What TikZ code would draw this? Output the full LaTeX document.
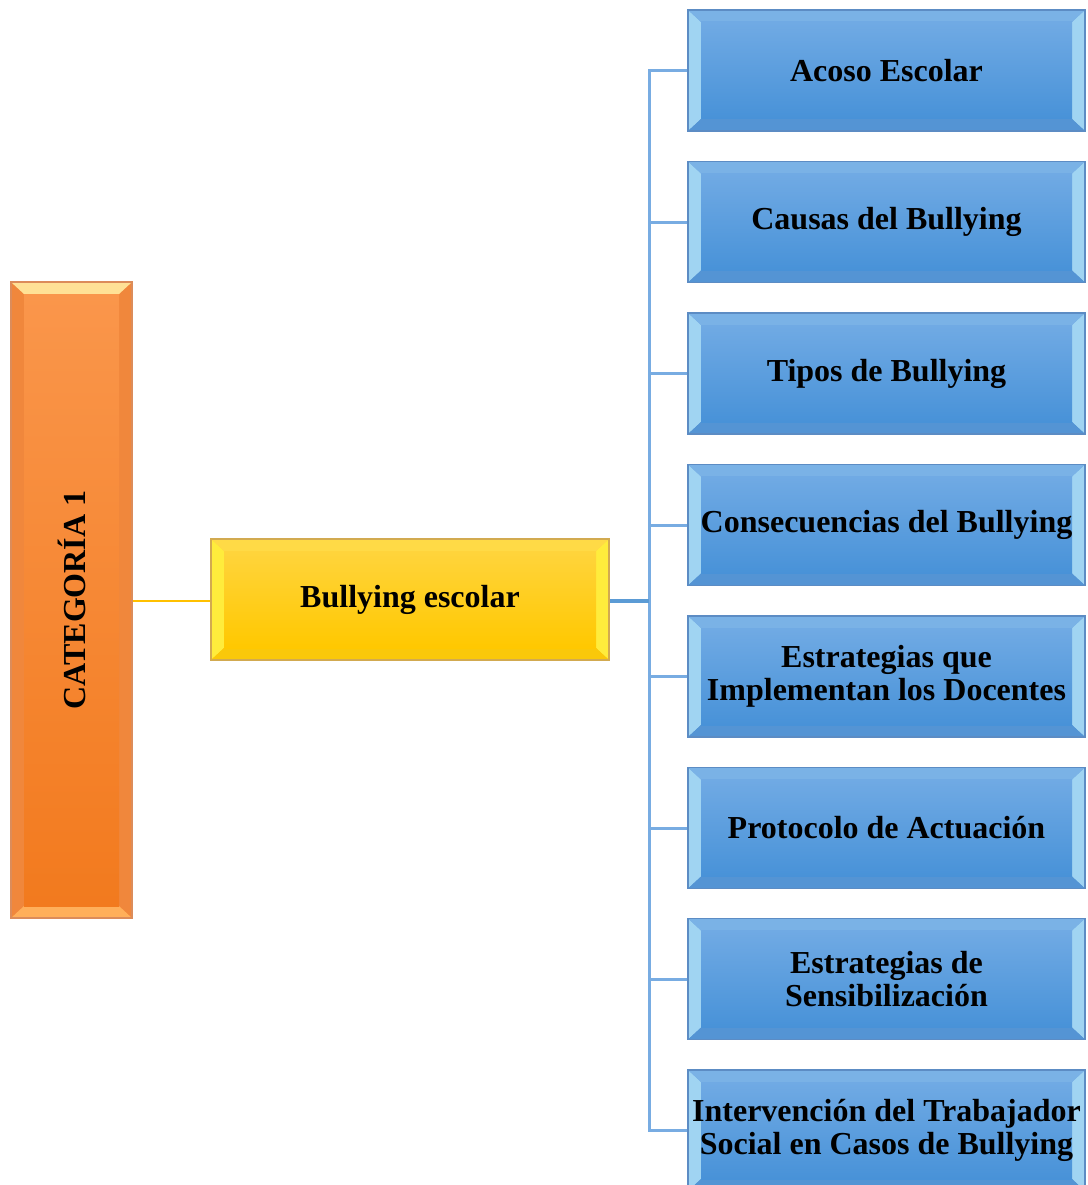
\documentclass[tikz,border=0pt]{standalone}
\usepackage{fontspec}
\setmainfont{Liberation Serif}
\begin{document}
\begin{tikzpicture}[x=1pt,y=-1pt]
\definecolor{bluetop}{RGB}{112,170,228}
\definecolor{bluebot}{RGB}{72,146,216}
\definecolor{blueedge}{RGB}{92,140,196}
\definecolor{bluebev}{RGB}{160,212,242}
\definecolor{bluebevt}{RGB}{122,178,230}
\definecolor{bluebevb}{RGB}{84,148,212}
\definecolor{yeltop}{RGB}{255,212,60}
\definecolor{yelbot}{RGB}{255,200,0}
\definecolor{yeledge}{RGB}{210,170,80}
\definecolor{yelbev}{RGB}{255,236,60}
\definecolor{yelbevt}{RGB}{255,218,70}
\definecolor{yelbevb}{RGB}{250,200,10}
\definecolor{ortop}{RGB}{250,150,75}
\definecolor{orbot}{RGB}{242,122,30}
\definecolor{oredge}{RGB}{220,140,90}
\definecolor{orbev}{RGB}{240,135,60}
\definecolor{orbevt}{RGB}{255,225,150}
\definecolor{orbevb}{RGB}{255,175,90}
\definecolor{linkblue}{RGB}{120,172,226}
\definecolor{linkdark}{RGB}{91,155,213}
\definecolor{gold}{RGB}{255,192,0}
\tikzset{
  bevelbox/.style n args={7}{rectangle, inner sep=0pt, draw=#3, line width=1.5pt,
    top color=#1, bottom color=#2, align=center,
    font=\bfseries\fontsize{32}{33}\selectfont,
    path picture={
      \fill[#4] (path picture bounding box.north west) -- ([xshift=13pt,yshift=-12pt]path picture bounding box.north west)
        -- ([xshift=13pt,yshift=12pt]path picture bounding box.south west) -- (path picture bounding box.south west) -- cycle;
      \fill[#4] (path picture bounding box.north east) -- ([xshift=-13pt,yshift=-12pt]path picture bounding box.north east)
        -- ([xshift=-13pt,yshift=12pt]path picture bounding box.south east) -- (path picture bounding box.south east) -- cycle;
      \fill[#5] (path picture bounding box.north west) -- ([xshift=13pt,yshift=-12pt]path picture bounding box.north west)
        -- ([xshift=-13pt,yshift=-12pt]path picture bounding box.north east) -- (path picture bounding box.north east) -- cycle;
      \fill[#6] (path picture bounding box.south west) -- ([xshift=13pt,yshift=12pt]path picture bounding box.south west)
        -- ([xshift=-13pt,yshift=12pt]path picture bounding box.south east) -- (path picture bounding box.south east) -- cycle;
      \shade[top color=#1, bottom color=#2] ([xshift=13pt,yshift=-12pt]path picture bounding box.north west) rectangle ([xshift=-13pt,yshift=12pt]path picture bounding box.south east);
    },
    minimum width=#7},
  bluebox/.style={bevelbox={bluetop}{bluebot}{blueedge}{bluebev}{bluebevt}{bluebevb}{397pt}, minimum height=121pt},
  yelbox/.style={bevelbox={yeltop}{yelbot}{yeledge}{yelbev}{yelbevt}{yelbevb}{398pt}, minimum height=121pt},
  orbox/.style={bevelbox={ortop}{orbot}{oredge}{orbev}{orbevt}{orbevb}{121pt}, minimum height=636pt},
  branch/.style={draw=linkblue, line width=3pt},
  trunk/.style={draw=linkdark, line width=4.5pt},
  goldlink/.style={draw=gold, line width=2pt}
}
\useasboundingbox (0,0) rectangle (1087,1185);
\node[orbox] (cat) at (71.5,600) {};
\node[rotate=90, font=\bfseries\fontsize{32}{33}\selectfont] (catlabel) at (cat.center) {CATEGORÍA 1};
\node[yelbox] (bul) at (410,599.5) {Bullying escolar};
\node[bluebox] (b1) at (886.5,70.5) {Acoso Escolar};
\node[bluebox] (b2) at (886.5,222) {Causas del Bullying};
\node[bluebox] (b3) at (886.5,373.5) {Tipos de Bullying};
\node[bluebox] (b4) at (886.5,525) {Consecuencias del Bullying};
\node[bluebox] (b5) at (886.5,676.5) {Estrategias que\\Implementan los Docentes};
\node[bluebox] (b6) at (886.5,828) {Protocolo de Actuación};
\node[bluebox] (b7) at (886.5,979) {Estrategias de\\Sensibilización};
\node[bluebox] (b8) at (886.5,1130.5) {Intervención del Trabajador\\Social en Casos de Bullying};
\coordinate (sp) at (649,601);
\draw[goldlink] (cat.east |- sp) -- (bul.west |- sp);
\draw[branch] (b1.west) -- (b1.west -| sp) -- (b8.west -| sp) -- (b8.west);
\foreach \b in {b2,b3,b4,b5,b6,b7} {\draw[branch] (\b.west) -- (\b.west -| sp);}
\draw[trunk] (bul.east |- sp) -- (sp);
\end{tikzpicture}
\end{document}
